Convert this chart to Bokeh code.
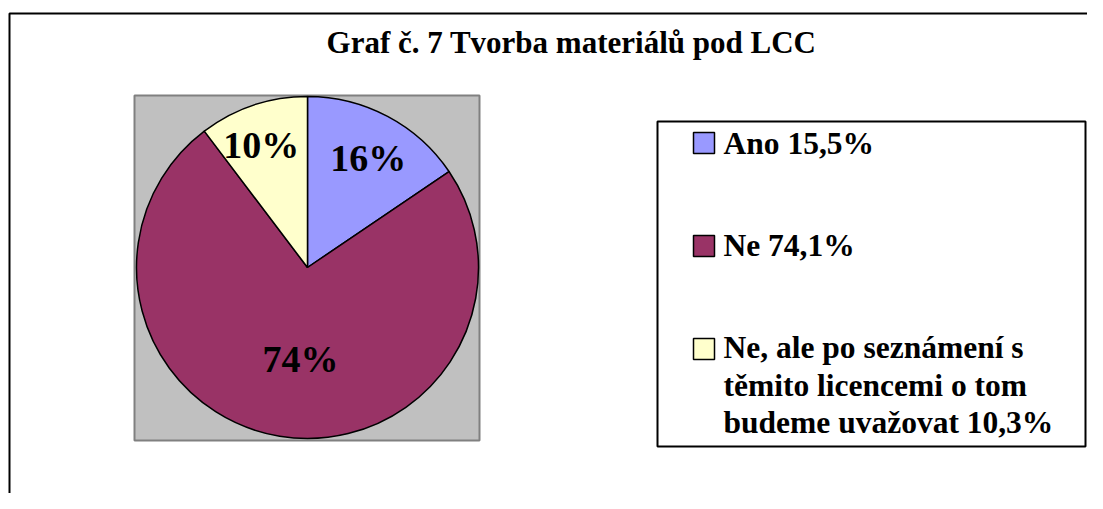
import math
from bokeh.plotting import figure
from bokeh.models import Range1d
from bokeh.core.properties import value
from bokeh.embed import file_html
from bokeh.resources import INLINE

# ---- data ----
categories = ["Ano", "Ne", "Ne, ale po seznámení s těmito licencemi o tom budeme uvažovat"]
values = [15.5, 74.1, 10.3]
pie_labels = ["16%", "74%", "10%"]
legend_labels = ["Ano 15,5%", "Ne 74,1%",
                 "Ne, ale po seznámení s\ntěmito licencemi o tom\nbudeme uvažovat 10,3%"]
colors = ["#9999FF", "#993366", "#FFFFCC"]
title = "Graf č. 7 Tvorba materiálů pod LCC"

W, H = 1087, 493
FONT = value("'Liberation Serif', 'Times New Roman', serif")


def Y(py):
    return H - py


p = figure(width=W, height=H, output_backend="svg", toolbar_location=None,
           x_range=Range1d(0, W), y_range=Range1d(0, H), min_border=0,
           outline_line_color=None, background_fill_color="white",
           border_fill_color="white")
p.axis.visible = False
p.xgrid.visible = False
p.ygrid.visible = False

# outer chart frame (right/bottom edges fall outside the view)
p.line([9, 9, W + 10], [Y(H + 10), Y(13), Y(13)], line_color="black", line_width=2)

# title
p.text(x=[571], y=[Y(42)], text=[title], text_font=FONT, text_font_style="bold",
       text_font_size="31px", text_align="center", text_baseline="middle",
       text_color="black")

# plot area
p.quad(left=[134], right=[479], top=[Y(95)], bottom=[Y(440)],
       fill_color="#C0C0C0", line_color="#808080", line_width=2)

# pie
cx, cy, R = 307, Y(267), 171
total = sum(values)
cum = 0.0
starts, ends, mids = [], [], []
for v in values:
    a0 = math.pi / 2 - 2 * math.pi * cum / total
    cum += v
    a1 = math.pi / 2 - 2 * math.pi * cum / total
    starts.append(a0)
    ends.append(a1)
    mids.append((a0 + a1) / 2)

p.wedge(x=[cx] * 3, y=[cy] * 3, radius=R, start_angle=starts, end_angle=ends,
        direction="clock", fill_color=colors, line_color="black", line_width=1.5)

label_r = [0.72, 0.54, 0.74]
label_dx = [3, 8, -6]
label_dy = [1, 0, 3]
lx = [cx + R * f * math.cos(m) + dx for f, m, dx in zip(label_r, mids, label_dx)]
ly = [cy + R * f * math.sin(m) + dy for f, m, dy in zip(label_r, mids, label_dy)]
p.text(x=lx, y=ly, text=pie_labels, text_font=FONT, text_font_style="bold",
       text_font_size="38px", text_align="center", text_baseline="middle",
       text_color="black")

# legend
p.quad(left=[657], right=[1085], top=[Y(121)], bottom=[Y(446)],
       fill_color="white", line_color="black", line_width=2)
sw_top = [132, 235, 338]
first_mid = [143, 245, 347]
line_gap = 37.5
p.quad(left=[693] * 3, right=[714] * 3, top=[Y(t) for t in sw_top],
       bottom=[Y(t + 21) for t in sw_top], fill_color=colors,
       line_color="black", line_width=1.5)
tx, ty, tt = [], [], []
for lab, b in zip(legend_labels, first_mid):
    for i, line in enumerate(lab.split("\n")):
        tx.append(723)
        ty.append(Y(b + i * line_gap))
        tt.append(line)
p.text(x=tx, y=ty, text=tt, text_font=FONT, text_font_style="bold",
       text_font_size="31.5px", text_align="left", text_baseline="middle",
       text_color="black")

open("out.html", "w").write(file_html(p, INLINE))
